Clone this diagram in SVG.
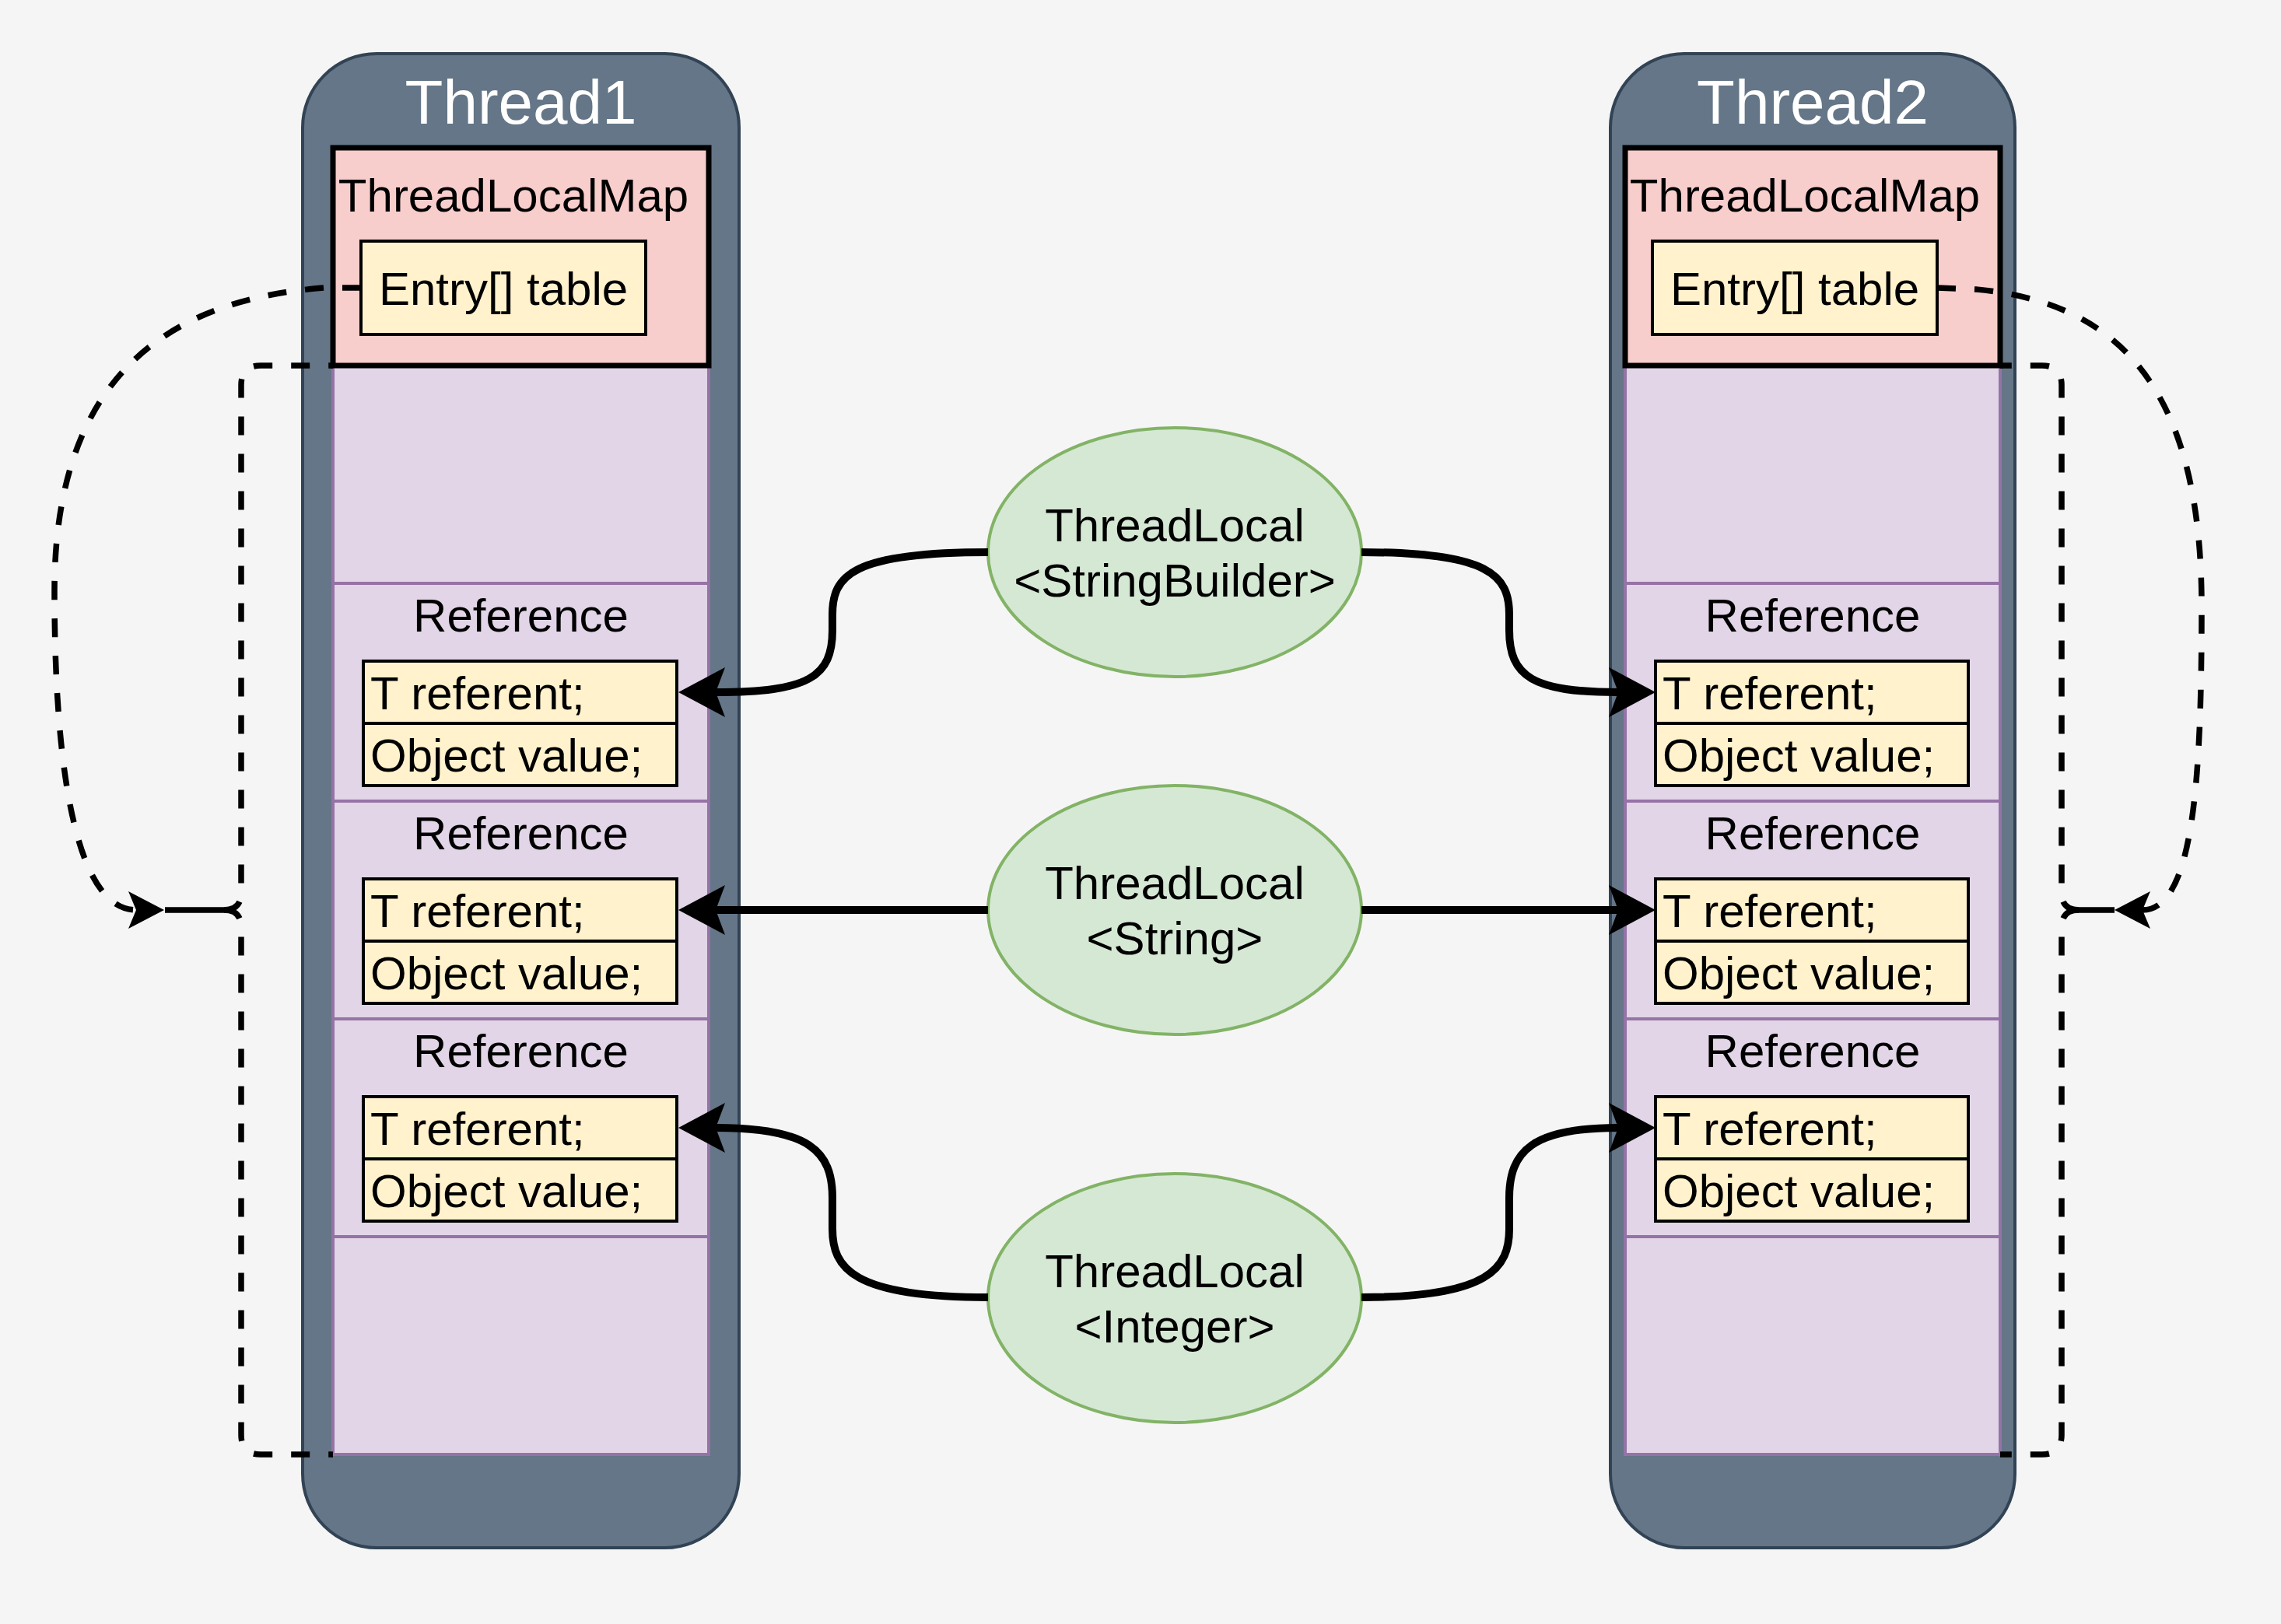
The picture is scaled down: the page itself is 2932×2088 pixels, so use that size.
<svg xmlns="http://www.w3.org/2000/svg" width="2932" height="2088" viewBox="0 0 2932 2088">
<style>
.bg{fill:#f5f5f5}
.thread{fill:#647687;stroke:#314354;stroke-width:4}
.sec{fill:#e1d5e7;stroke:#9673a6;stroke-width:4}
.map{fill:#f8cecc;stroke:#000;stroke-width:7}
.field{fill:#fff2cc;stroke:#000;stroke-width:4}
.tl{fill:#d5e8d4;stroke:#82b366;stroke-width:4}
text{font-family:"Liberation Sans",Arial,Helvetica,sans-serif;font-size:60px;fill:#000}
.title{font-size:80px;fill:#fff;text-anchor:middle}
.mid{text-anchor:middle}
.solid{fill:none;stroke:#000;stroke-width:10;marker-end:url(#arr)}
.dash{fill:none;stroke:#000;stroke-width:7.5;stroke-dasharray:24 24}
.dasharrow{marker-end:url(#arrs)}
.stub{fill:none;stroke:#000;stroke-width:7.5}
</style>
<defs>
<marker id="arr" markerUnits="userSpaceOnUse" markerWidth="64" markerHeight="66" refX="12" refY="33" orient="auto" overflow="visible">
<path d="M60,33 L0,1 L12,33 L0,65 Z" fill="#000"/>
</marker>
<marker id="arrs" markerUnits="userSpaceOnUse" markerWidth="48" markerHeight="50" refX="10" refY="25" orient="auto" overflow="visible">
<path d="M46,25 L0,1 L10,25 L0,49 Z" fill="#000"/>
</marker>
</defs>
<rect class="bg" x="0" y="0" width="2932" height="2088"/>

<g id="thread1">
<rect class="thread" x="389" y="69" width="561" height="1921" rx="95" ry="95"/>
<text class="title" x="669.5" y="159">Thread1</text>
<g id="thread1-sections">
<rect class="sec" x="428" y="470" width="483" height="280"/>
<rect class="sec" x="428" y="750" width="483" height="280"/>
<rect class="sec" x="428" y="1030" width="483" height="280"/>
<rect class="sec" x="428" y="1310" width="483" height="280"/>
<rect class="sec" x="428" y="1590" width="483" height="280"/>
</g>
</g>
<g id="thread1-map">
<rect class="map" x="428" y="190" width="483" height="280"/>
<text class="mid" x="660" y="272">ThreadLocalMap</text>
</g>
<g id="thread1-entry">
<rect class="field" x="464" y="310" width="366" height="120"/>
<text class="mid" x="647" y="392">Entry[] table</text>
</g>
<g id="thread1-ref1">
<text class="mid" x="669.5" y="812">Reference</text>
<rect class="field" x="467" y="850" width="403" height="80"/>
<rect class="field" x="467" y="930" width="403" height="80"/>
<text x="476" y="912">T referent;</text>
<text x="476" y="992">Object value;</text>
</g>
<g id="thread1-ref2">
<text class="mid" x="669.5" y="1092">Reference</text>
<rect class="field" x="467" y="1130" width="403" height="80"/>
<rect class="field" x="467" y="1210" width="403" height="80"/>
<text x="476" y="1192">T referent;</text>
<text x="476" y="1272">Object value;</text>
</g>
<g id="thread1-ref3">
<text class="mid" x="669.5" y="1372">Reference</text>
<rect class="field" x="467" y="1410" width="403" height="80"/>
<rect class="field" x="467" y="1490" width="403" height="80"/>
<text x="476" y="1472">T referent;</text>
<text x="476" y="1552">Object value;</text>
</g>

<g id="thread2">
<rect class="thread" x="2070" y="69" width="520" height="1921" rx="95" ry="95"/>
<text class="title" x="2330" y="159">Thread2</text>
<g id="thread2-sections">
<rect class="sec" x="2089" y="470" width="482" height="280"/>
<rect class="sec" x="2089" y="750" width="482" height="280"/>
<rect class="sec" x="2089" y="1030" width="482" height="280"/>
<rect class="sec" x="2089" y="1310" width="482" height="280"/>
<rect class="sec" x="2089" y="1590" width="482" height="280"/>
</g>
</g>
<g id="thread2-map">
<rect class="map" x="2089" y="190" width="482" height="280"/>
<text class="mid" x="2320" y="272">ThreadLocalMap</text>
</g>
<g id="thread2-entry">
<rect class="field" x="2124" y="310" width="366" height="120"/>
<text class="mid" x="2307" y="392">Entry[] table</text>
</g>
<g id="thread2-ref1">
<text class="mid" x="2330" y="812">Reference</text>
<rect class="field" x="2128" y="850" width="402" height="80"/>
<rect class="field" x="2128" y="930" width="402" height="80"/>
<text x="2137" y="912">T referent;</text>
<text x="2137" y="992">Object value;</text>
</g>
<g id="thread2-ref2">
<text class="mid" x="2330" y="1092">Reference</text>
<rect class="field" x="2128" y="1130" width="402" height="80"/>
<rect class="field" x="2128" y="1210" width="402" height="80"/>
<text x="2137" y="1192">T referent;</text>
<text x="2137" y="1272">Object value;</text>
</g>
<g id="thread2-ref3">
<text class="mid" x="2330" y="1372">Reference</text>
<rect class="field" x="2128" y="1410" width="402" height="80"/>
<rect class="field" x="2128" y="1490" width="402" height="80"/>
<text x="2137" y="1472">T referent;</text>
<text x="2137" y="1552">Object value;</text>
</g>

<g id="tl-stringbuilder">
<ellipse class="tl" cx="1510" cy="710" rx="240" ry="160"/>
<text class="mid" x="1510" y="696">ThreadLocal</text>
<text class="mid" x="1510" y="767">&lt;StringBuilder&gt;</text>
</g>
<g id="tl-string">
<ellipse class="tl" cx="1510" cy="1170" rx="240" ry="160"/>
<text class="mid" x="1510" y="1156">ThreadLocal</text>
<text class="mid" x="1510" y="1227">&lt;String&gt;</text>
</g>
<g id="tl-integer">
<ellipse class="tl" cx="1510" cy="1669" rx="240" ry="160"/>
<text class="mid" x="1510" y="1655">ThreadLocal</text>
<text class="mid" x="1510" y="1726">&lt;Integer&gt;</text>
</g>

<g id="connectors">
<path class="solid" d="M1270,710 C1095,710 1070,740 1070,790 L1070,810 C1070,870 1040,890 920,890"/>
<path class="solid" d="M1750,710 C1915,710 1940,740 1940,790 L1940,810 C1940,870 1970,890 2080,890"/>
<path class="solid" d="M1270,1170 L920,1170"/>
<path class="solid" d="M1750,1170 L2080,1170"/>
<path class="solid" d="M1270,1668 C1095,1668 1070,1630 1070,1580 L1070,1540 C1070,1480 1040,1450 920,1450"/>
<path class="solid" d="M1750,1668 C1915,1668 1940,1630 1940,1580 L1940,1540 C1940,1480 1970,1450 2080,1450"/>

<path class="dash dasharrow" d="M464,370 L417,370 C220,385 70,480 70,760 C70,1000 100,1170 175,1170"/>
<path class="dash" d="M288,1170 Q310,1170 310,1148 L310,495 Q310,470 335,470 L428,470"/>
<path class="dash" d="M288,1170 Q310,1170 310,1192 L310,1845 Q310,1870 335,1870 L428,1870"/>
<path class="stub" d="M212,1170 L290,1170"/>

<path class="dash dasharrow" d="M2490,370 L2540,372 C2740,390 2830,520 2830,780 C2830,1000 2820,1170 2754,1170"/>
<path class="dash" d="M2672,1170 Q2650,1170 2650,1148 L2650,495 Q2650,470 2625,470 L2571,470"/>
<path class="dash" d="M2672,1170 Q2650,1170 2650,1192 L2650,1845 Q2650,1870 2625,1870 L2571,1870"/>
<path class="stub" d="M2668,1170 L2718,1170"/>
</g>
</svg>
